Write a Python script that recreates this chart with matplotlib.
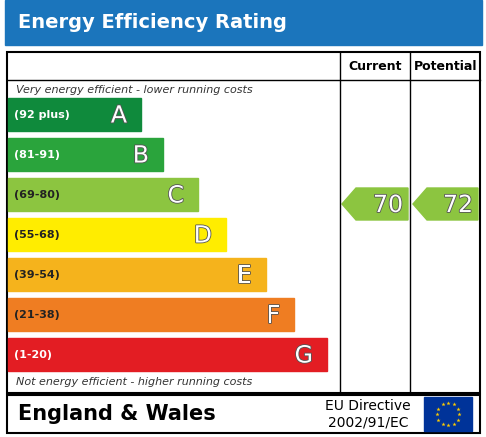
import matplotlib
matplotlib.use("Agg")
import matplotlib.pyplot as plt
import matplotlib.patheffects as pe
from matplotlib.patches import Rectangle, Polygon
import numpy as np

# data
bands = ["A", "B", "C", "D", "E", "F", "G"]
ranges = ["(92 plus)", "(81-91)", "(69-80)", "(55-68)", "(39-54)", "(21-38)", "(1-20)"]
colors = ["#0f8a3c", "#2aa43c", "#8cc540", "#ffed00", "#f5b31c", "#ef7d22", "#e31d23"]
current = 70
potential = 72

# layout in pixels
bar_right = [141, 163, 198, 226, 266, 294, 327]
bar_top = [98, 138, 178, 218, 258, 298, 338]
bar_h = 33

fig = plt.figure(figsize=(4.86, 4.37), dpi=100)
ax = fig.add_axes([0, 0, 1, 1])
ax.set_xlim(0, 486)
ax.set_ylim(437, 0)
ax.axis("off")

# title bar
ax.add_patch(Rectangle((5, 0), 477, 45, color="#1b75bc"))
ax.text(18, 22, "Energy Efficiency Rating", color="white", fontsize=14,
        fontweight="bold", va="center", ha="left")

# main frame
ax.add_patch(Rectangle((7, 52), 473, 341, fill=False, lw=1.5, ec="black"))
ax.plot([7, 480], [80, 80], color="black", lw=1)
ax.plot([340, 340], [52, 393], color="black", lw=1)
ax.plot([410, 410], [52, 393], color="black", lw=1)
ax.text(375, 66, "Current", fontsize=9, fontweight="bold", ha="center", va="center")
ax.text(446, 66, "Potential", fontsize=9, fontweight="bold", ha="center", va="center")

ax.text(16, 90, "Very energy efficient - lower running costs", fontsize=8,
        style="italic", color="#333333", va="center")
ax.text(16, 382, "Not energy efficient - higher running costs", fontsize=8,
        style="italic", color="#333333", va="center")

outline = [pe.withStroke(linewidth=1.2, foreground="#555555")]
for b, r, c, x1, y0 in zip(bands, ranges, colors, bar_right, bar_top):
    ax.add_patch(Rectangle((8, y0), x1 - 8, bar_h, color=c))
    ax.text(14, y0 + bar_h / 2, r, fontsize=8, fontweight="bold",
            color="white" if b in ("A", "B", "G") else "#222222", va="center")
    ax.text(x1 - 14, y0 + bar_h / 2 + 1, b, fontsize=17, color="white",
            ha="right", va="center", path_effects=outline)


def band_color(v):
    lims = [92, 81, 69, 55, 39, 21, 1]
    for lim, c in zip(lims, colors):
        if v >= lim:
            return c
    return colors[-1]


def arrow(x0, x1, v):
    yc, h = 204, 16
    pts = [(x0, yc), (x0 + 14, yc - h), (x1, yc - h), (x1, yc + h), (x0 + 14, yc + h)]
    ax.add_patch(Polygon(pts, color=band_color(v)))
    ax.text(x1 - 5, yc + 1, str(v), fontsize=17, color="white", ha="right",
            va="center", path_effects=outline)


arrow(342, 408, current)
arrow(413, 478, potential)

# bottom box
ax.add_patch(Rectangle((7, 395), 473, 38, fill=False, lw=1.5, ec="black"))
ax.text(18, 414, "England & Wales", fontsize=15, fontweight="bold", va="center")
ax.text(368, 406, "EU Directive", fontsize=10, ha="center", va="center")
ax.text(368, 423, "2002/91/EC", fontsize=10, ha="center", va="center")
ax.add_patch(Rectangle((424, 397), 48, 34, color="#003399"))
ang = np.linspace(0, 2 * np.pi, 13)[:-1]
ax.scatter(448 + 11 * np.cos(ang), 414 + 11 * np.sin(ang), marker="*", s=10,
           color="#ffcc00", lw=0)

fig.savefig("out.png", dpi=100)
